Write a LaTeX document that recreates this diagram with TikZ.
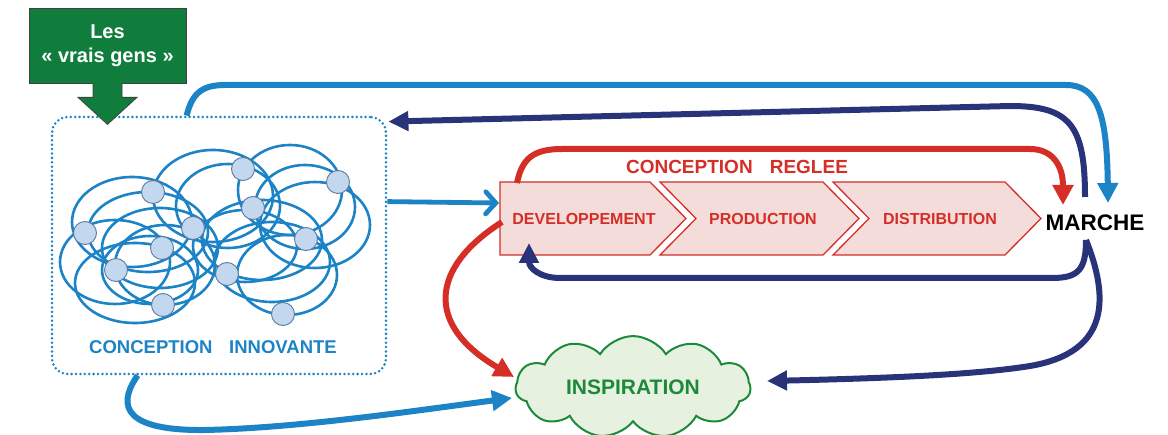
\documentclass[tikz,border=0pt]{standalone}
\usepackage{fontspec}
\setmainfont{Liberation Sans}
\usetikzlibrary{arrows.meta,shapes.symbols,calc}
\definecolor{cblue}{HTML}{1C83C6}
\definecolor{cnavy}{HTML}{28337A}
\definecolor{cred}{HTML}{D42E27}
\definecolor{cgreen}{HTML}{107D3D}
\definecolor{cgreenline}{HTML}{1B8A3A}
\definecolor{ccloud}{HTML}{E7F1E0}
\definecolor{cchev}{HTML}{F4DCDA}
\definecolor{cdotfill}{HTML}{C3D8EE}
\definecolor{cdotline}{HTML}{5B7AA5}
\begin{document}
\begin{tikzpicture}[x=1pt,y=-1pt,
  peoplebox/.style={draw=black!75, line width=0.8pt, fill=cgreen, minimum width=157pt, minimum height=75pt, inner sep=0pt, text=white, align=center, font=\fontsize{20}{24}\selectfont\bfseries},
  cibox/.style={draw=cblue, line width=2.8pt, dash pattern=on 0pt off 4.4pt, line cap=round, rounded corners=16pt, minimum width=334pt, minimum height=257pt, inner sep=0pt},
  netell/.style={draw=cblue, line width=2.6pt},
  netdot/.style={circle, draw=cdotline, line width=0.9pt, fill=cdotfill, minimum size=23pt, inner sep=0pt},
  chevbox/.style={draw=cred, line width=1.3pt, fill=cchev},
  chevtext/.style={text=cred, font=\fontsize{16}{18}\selectfont\bfseries, inner sep=0pt},
  bluearr/.style={draw=cblue, line width=6pt, -{Triangle[length=20pt,width=20pt]}},
  navyarr/.style={draw=cnavy, line width=6pt, -{Triangle[length=20pt,width=19pt]}},
  redarr/.style={draw=cred, line width=6pt, -{Triangle[length=20pt,width=20pt]}},
  barbarr/.style={draw=cblue, line width=4.8pt, -{Straight Barb[length=10pt,width=22pt,line cap=round]}},
  cloudnode/.style={cloud, cloud puffs=11, cloud puff arc=115, aspect=2.5, draw=cgreenline, line width=2pt, fill=ccloud, minimum width=235pt, minimum height=92pt, inner sep=0pt, text=cgreenline, font=\fontsize{21}{23}\selectfont\bfseries},
]
\useasboundingbox (0,0) rectangle (1168,435);

% ---- nodes
\node[peoplebox] (people) at (107.5,45.5) {Les\\«~vrais gens~»};
\node[cibox] (ci) at (219,245.5) {};
\node[text=cblue, font=\fontsize{18.5}{20}\selectfont\bfseries] (cilabel) at (213,347) {CONCEPTION\hspace{0.9em}INNOVANTE};

% green down arrow
\fill[cgreen, shift={(people.south)}] (-14.5,-1) -- (-14.5,14) -- (-29.5,14) -- (0,41) -- (29.5,14) -- (14.5,14) -- (14.5,-1) -- cycle;
\draw[black!75, line width=0.8pt, shift={(people.south)}] (-14.5,0) -- (-14.5,14) -- (-29.5,14) -- (0,41) -- (29.5,14) -- (14.5,14) -- (14.5,0);

% network ellipses
\foreach \cx/\cy/\rx/\ry in {
  132/222/60/45, 148/232/60/40, 115/262/55/42, 135/283/60/40,
  160/248/58/40, 165/265/50/40, 150/270/48/34,
  213/196/60/46, 228/206/52/42,
  290/190/52/45, 305/207/50/42, 315/225/55/43,
  262/240/60/40, 272/262/58/40, 287/275/50/40, 245/246/52/36}
  \draw[netell] (\cx,\cy) ellipse [x radius=\rx pt, y radius=\ry pt];

\node[netdot] (n1) at (153,192) {};
\node[netdot] (n2) at (243,169) {};
\node[netdot] (n3) at (338,182) {};
\node[netdot] (n4) at (85,233) {};
\node[netdot] (n5) at (193,228) {};
\node[netdot] (n6) at (253,208) {};
\node[netdot] (n7) at (162,248) {};
\node[netdot] (n8) at (116,270) {};
\node[netdot] (n9) at (306,239) {};
\node[netdot] (n10) at (227,274) {};
\node[netdot] (n11) at (163,305) {};
\node[netdot] (n12) at (283,314) {};

% chevrons
\draw[chevbox] (500,182) -- (650,182) -- (686,218.5) -- (650,255) -- (500,255) -- cycle;
\draw[chevbox] (660,182) -- (823,182) -- (859,218.5) -- (823,255) -- (660,255) -- (696,218.5) -- cycle;
\draw[chevbox] (833,182) -- (1005,182) -- (1041,218.5) -- (1005,255) -- (833,255) -- (869,218.5) -- cycle;
\node[chevtext] (dev) at (584,218.5) {DEVELOPPEMENT};
\node[chevtext] (prod) at (763,218.5) {PRODUCTION};
\node[chevtext] (dist) at (940,218.5) {DISTRIBUTION};
\node[text=cred, font=\fontsize{19}{21}\selectfont\bfseries] (cr) at (737,167) {CONCEPTION\hspace{0.9em}REGLEE};

\node[font=\fontsize{22.5}{24}\selectfont\bfseries, inner sep=0pt] (marche) at (1095,223) {MARCHE};
\node[cloudnode] (insp) at (633,387) {INSPIRATION\hspace{0.6em}};

% ---- named connector ends
\coordinate (ciTop) at ($(ci.north west)+(136,0)$);
\coordinate (ciRight) at ($(ci.north east)+(1,6)$);
\coordinate (ciRightMid) at ($(ci.north east)+(0,86)$);
\coordinate (ciBottom) at ($(ci.south west)+(87,0)$);
\coordinate (devWest) at (499,203);
\coordinate (devTop) at (517,183);
\coordinate (devLeft) at (502,222);
\coordinate (devBottom) at (529,243);
\coordinate (mkTopR) at (1108,203);
\coordinate (mkTopL) at (1063,205);
\coordinate (mkTopM) at (1085,197);
\coordinate (mkBot) at (1086,240);
\coordinate (inspW) at (514,377);
\coordinate (inspWB) at (512,398);
\coordinate (inspE) at (767,381);

% ---- connectors
\draw[bluearr] (ciTop) .. controls (192,95) and (200,85) .. (225,85) -- (1066,85) .. controls (1098,85) and (1107,115) .. (mkTopR);
\draw[navyarr] (mkTopM) .. controls (1085,125) and (1070,106) .. (1010,106) -- (ciRight);
\draw[redarr] (devTop) .. controls (522,158) and (534,149) .. (562,149) -- (1030,149) .. controls (1052,149) and (1063,165) .. (mkTopL);
\draw[barbarr] (ciRightMid) -- (devWest);
\draw[navyarr] (mkBot) .. controls (1086,270) and (1078,278) .. (1052,278) -- (560,278) .. controls (540,278) and (529,268) .. (devBottom);
\draw[redarr] (devLeft) .. controls (430,268) and (425,325) .. (inspW);
\draw[navyarr] (mkBot) .. controls (1108,295) and (1112,352) .. (1030,366) .. controls (980,374) and (900,378) .. (inspE);
\draw[bluearr] (ciBottom) .. controls (122,398) and (112,431) .. (205,430) .. controls (300,428) and (420,410) .. (inspWB);
\end{tikzpicture}
\end{document}
